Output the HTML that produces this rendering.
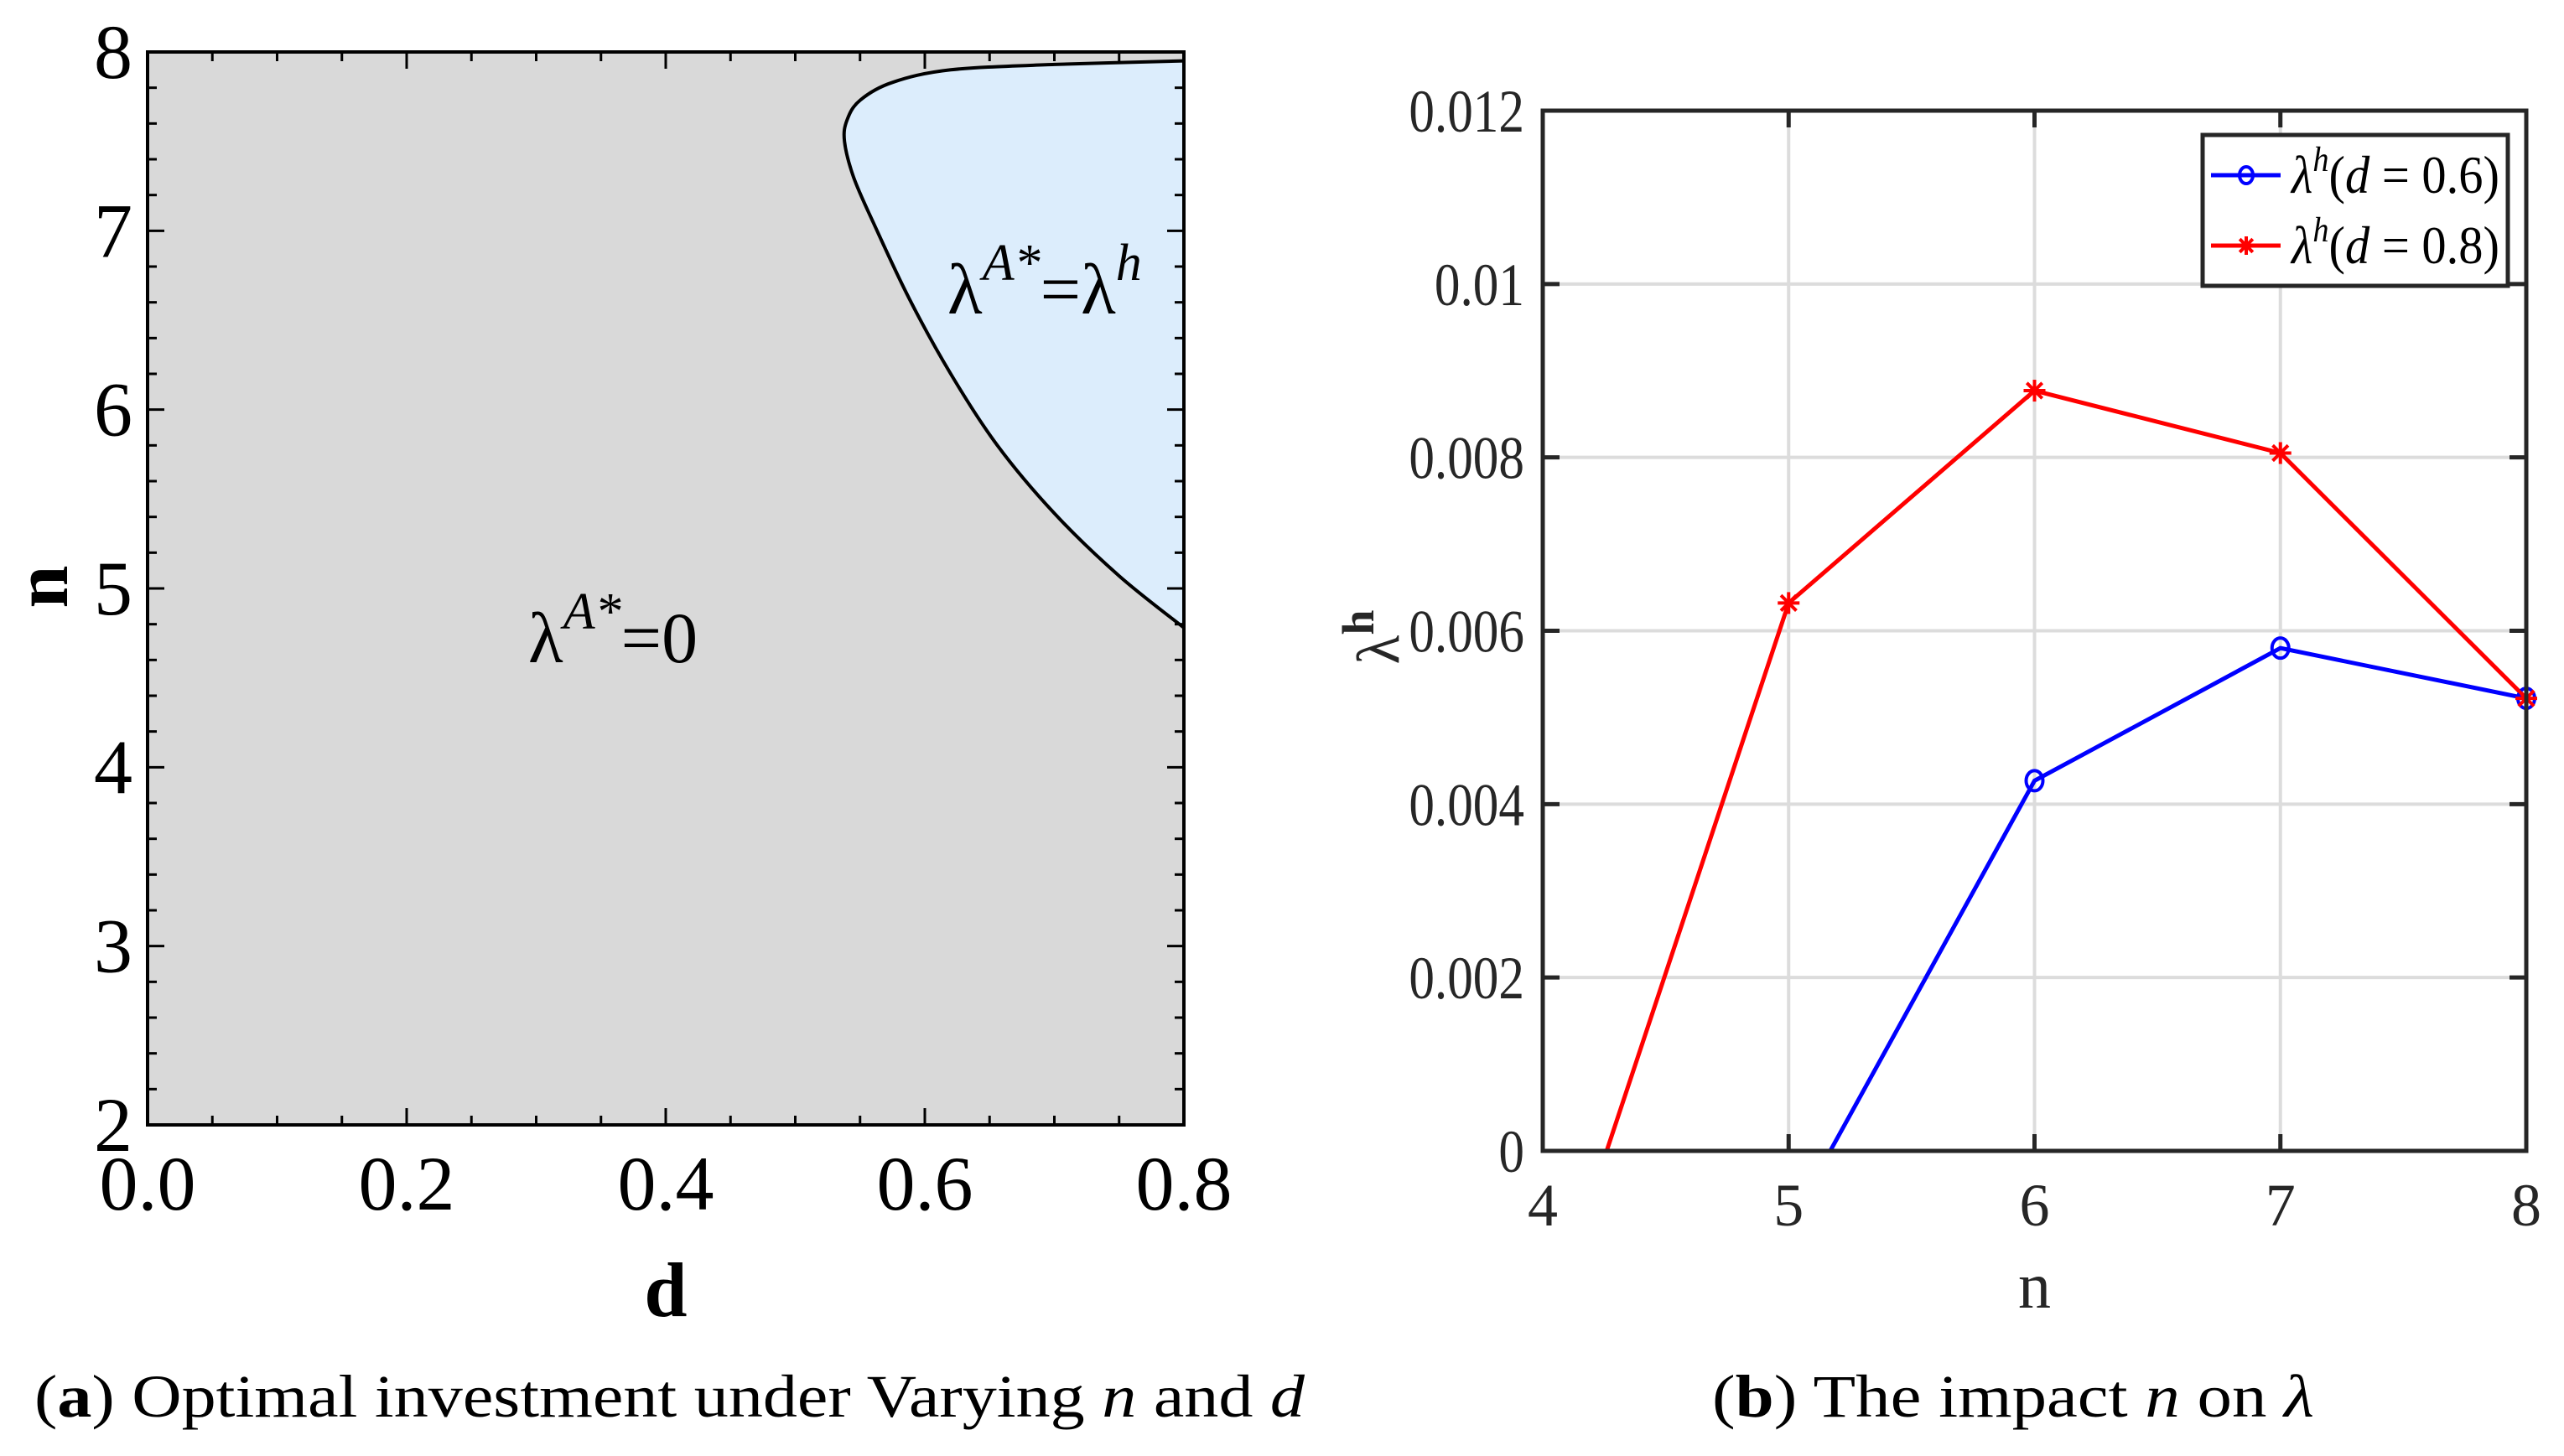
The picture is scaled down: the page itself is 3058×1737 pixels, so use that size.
<!DOCTYPE html>
<html><head><meta charset="utf-8"><style>
html,body{margin:0;padding:0;background:#fff;}
svg{display:block;}
text{font-family:"Liberation Serif",serif;}
</style></head><body>
<svg id="fig" width="3058" height="1737" viewBox="0 0 3058 1737" xmlns="http://www.w3.org/2000/svg">
<g id="left"></g>
<g id="right"></g>
<text x="41" y="1690" font-size="72" textLength="1515" lengthAdjust="spacingAndGlyphs">(<tspan font-weight="bold">a</tspan>) Optimal investment under Varying <tspan font-style="italic">n</tspan> and <tspan font-style="italic">d</tspan></text>
<text x="2042" y="1690" font-size="72" textLength="718" lengthAdjust="spacingAndGlyphs">(<tspan font-weight="bold">b</tspan>) The impact <tspan font-style="italic">n</tspan> on <tspan font-style="italic">λ</tspan></text>
</svg>
<script>
// ---- Left plot data ----
const dTicks = [0.0, 0.2, 0.4, 0.6, 0.8];
const dTickLabels = ["0.0", "0.2", "0.4", "0.6", "0.8"];
const nTicksLeft = [2, 3, 4, 5, 6, 7, 8];
const boundaryD = [0.8, 0.7, 0.62, 0.575, 0.55, 0.54, 0.538, 0.545, 0.56, 0.588, 0.62, 0.656, 0.7, 0.75, 0.8];
const boundaryN = [7.95, 7.93, 7.9, 7.83, 7.73, 7.62, 7.5, 7.3, 7.05, 6.62, 6.2, 5.8, 5.42, 5.07, 4.78];

// ---- Right plot data ----
const nCats = [4, 5, 6, 7, 8];
const lamTicks = [0, 0.002, 0.004, 0.006, 0.008, 0.01, 0.012];
const lamTickLabels = ["0", "0.002", "0.004", "0.006", "0.008", "0.01", "0.012"];
const blueN = [5, 6, 7, 8];
const blueVals = [-0.00087, 0.00427, 0.0058, 0.00522];
const redN = [4, 5, 6, 7, 8];
const redVals = [-0.00222, 0.00632, 0.00877, 0.00805, 0.00522];

const NS = "http://www.w3.org/2000/svg";
function mk(parent, tag, attrs, txt) {
  const e = document.createElementNS(NS, tag);
  for (const k in attrs) e.setAttribute(k, attrs[k]);
  if (txt !== undefined) e.textContent = txt;
  parent.appendChild(e);
  return e;
}
function smoothPath(P) {
  let d = 'M' + P[0][0] + ',' + P[0][1];
  for (let i = 0; i < P.length - 1; i++) {
    const p0 = P[Math.max(0, i - 1)], p1 = P[i], p2 = P[i + 1], p3 = P[Math.min(P.length - 1, i + 2)];
    const c1x = p1[0] + (p2[0] - p0[0]) / 6, c1y = p1[1] + (p2[1] - p0[1]) / 6;
    const c2x = p2[0] - (p3[0] - p1[0]) / 6, c2y = p2[1] - (p3[1] - p1[1]) / 6;
    d += ' C' + c1x.toFixed(1) + ',' + c1y.toFixed(1) + ' ' + c2x.toFixed(1) + ',' + c2y.toFixed(1) + ' ' + p2[0].toFixed(1) + ',' + p2[1].toFixed(1);
  }
  return d;
}

// ===== Left =====
(function(){
  const g = document.getElementById('left');
  const L = 176, R = 1412, T = 62, B = 1342;
  const xs = d => L + (d - 0) / 0.8 * (R - L);
  const ys = n => B - (n - 2) / 6 * (B - T);
  const bg = mk(g, 'rect', {x: L, y: T, width: R - L, height: B - T, fill: '#d9d9d9'});
  
  
  const P = boundaryD.map((d, i) => [xs(d), ys(boundaryN[i])]);
  const pd = smoothPath(P);
  const reg = mk(g, 'path', {d: pd + ' Z', fill: '#dcedfc', stroke: 'none'});
  
  
  const bl = mk(g, 'path', {d: pd, fill: 'none', stroke: '#000', 'stroke-width': 4, 'stroke-linejoin': 'round'});
  
  
  for (let d = 0; d <= 0.8001; d += 0.05) {
    const major = Math.abs(d / 0.2 - Math.round(d / 0.2)) < 1e-6;
    const len = major ? 20 : 11;
    mk(g, 'line', {x1: xs(d), x2: xs(d), y1: B, y2: B - len, stroke: '#000', 'stroke-width': 3});
    mk(g, 'line', {x1: xs(d), x2: xs(d), y1: T, y2: T + len, stroke: '#000', 'stroke-width': 3});
  }
  for (let n = 2; n <= 8.001; n += 0.2) {
    const major = Math.abs(n - Math.round(n)) < 1e-6;
    const len = major ? 20 : 11;
    mk(g, 'line', {x1: L, x2: L + len, y1: ys(n), y2: ys(n), stroke: '#000', 'stroke-width': 3});
    mk(g, 'line', {x1: R, x2: R - len, y1: ys(n), y2: ys(n), stroke: '#000', 'stroke-width': 3});
  }
  const fr = mk(g, 'rect', {x: L, y: T, width: R - L, height: B - T, fill: 'none', stroke: '#000', 'stroke-width': 4});
  
  
  dTicks.forEach((d, i) => {
    const t = mk(g, 'text', {x: xs(d), y: 1443, 'font-size': 92, 'text-anchor': 'middle'}, dTickLabels[i]);
    
    
  });
  nTicksLeft.forEach(n => {
    const t = mk(g, 'text', {x: 158, y: ys(n) + 31, 'font-size': 92, 'text-anchor': 'end'}, String(n));
    
    
  });
  const xl = mk(g, 'text', {x: 794, y: 1570, 'font-size': 92, 'font-weight': 'bold', 'text-anchor': 'middle'}, 'd');
  
  
  const yl = mk(g, 'text', {x: 0, y: 0, 'font-size': 92, 'font-weight': 'bold', 'text-anchor': 'middle', transform: 'translate(80,700) rotate(-90)'}, 'n');
  
  
  const a1 = mk(g, 'text', {x: 630, y: 790, 'font-size': 86}, '');
  a1.innerHTML = 'λ<tspan dy="-40" font-size="62" font-style="italic">A*</tspan><tspan dy="40">=0</tspan>';
  
  
  const a2 = mk(g, 'text', {x: 1130, y: 374, 'font-size': 86}, '');
  a2.innerHTML = 'λ<tspan dy="-40" font-size="62" font-style="italic">A*</tspan><tspan dy="40">=λ</tspan><tspan dy="-40" font-size="62" font-style="italic">h</tspan>';
  
  
})();

// ===== Right =====
(function(){
  const g = document.getElementById('right');
  const L = 1840, R = 3013, T = 132, B = 1373;
  const xs = n => L + (n - 4) / 4 * (R - L);
  const ys = v => B - v / 0.012 * (B - T);
  mk(g, 'defs', {}).innerHTML = '<clipPath id="clipR"><rect x="' + L + '" y="' + T + '" width="' + (R - L) + '" height="' + (B - T) + '"/></clipPath>';
  nCats.forEach(n => {
    mk(g, 'line', {x1: xs(n), x2: xs(n), y1: T, y2: B, stroke: '#dcdcdc', 'stroke-width': 4});
  });
  lamTicks.forEach(v => {
    mk(g, 'line', {x1: L, x2: R, y1: ys(v), y2: ys(v), stroke: '#dcdcdc', 'stroke-width': 4});
  });
  nCats.forEach(n => {
    mk(g, 'line', {x1: xs(n), x2: xs(n), y1: B, y2: B - 20, stroke: '#262626', 'stroke-width': 5});
    mk(g, 'line', {x1: xs(n), x2: xs(n), y1: T, y2: T + 20, stroke: '#262626', 'stroke-width': 5});
  });
  lamTicks.forEach(v => {
    mk(g, 'line', {x1: L, x2: L + 20, y1: ys(v), y2: ys(v), stroke: '#262626', 'stroke-width': 5});
    mk(g, 'line', {x1: R, x2: R - 20, y1: ys(v), y2: ys(v), stroke: '#262626', 'stroke-width': 5});
  });
  const cg = mk(g, 'g', {'clip-path': 'url(#clipR)'});
  const bp = mk(cg, 'polyline', {points: blueN.map((n, i) => xs(n) + ',' + ys(blueVals[i])).join(' '), fill: 'none', stroke: '#0000ff', 'stroke-width': 5});
  
  
  const rp = mk(cg, 'polyline', {points: redN.map((n, i) => xs(n) + ',' + ys(redVals[i])).join(' '), fill: 'none', stroke: '#ff0000', 'stroke-width': 5});
  
  
  blueN.forEach((n, i) => {
    if (blueVals[i] < 0) return;
    const c = mk(g, 'ellipse', {cx: xs(n), cy: ys(blueVals[i]), rx: 10, ry: 12, fill: 'none', stroke: '#0000ff', 'stroke-width': 4});
    
    
  });
  function star(parent, x, y, r, col) {
    const s = mk(parent, 'g', {stroke: col, 'stroke-width': 4});
    for (let k = 0; k < 4; k++) {
      const a = k * Math.PI / 4;
      mk(s, 'line', {x1: x - r * Math.cos(a), y1: y - r * Math.sin(a), x2: x + r * Math.cos(a), y2: y + r * Math.sin(a)});
    }
    return s;
  }
  redN.forEach((n, i) => {
    if (redVals[i] < 0) return;
    const s = star(g, xs(n), ys(redVals[i]), 13, '#ff0000');
    
    
  });
  const fr = mk(g, 'rect', {x: L, y: T, width: R - L, height: B - T, fill: 'none', stroke: '#262626', 'stroke-width': 5});
  
  
  nCats.forEach(n => {
    const t = mk(g, 'text', {x: xs(n), y: 1462, 'font-size': 72, 'text-anchor': 'middle', fill: '#262626'}, String(n));
    
    
  });
  lamTicks.forEach((v, i) => {
    const t = mk(g, 'text', {x: 1818, y: ys(v) + 25, 'font-size': 72, 'text-anchor': 'end', fill: '#262626', transform: 'translate(1818,0) scale(0.85,1) translate(-1818,0)'}, lamTickLabels[i]);
    
    
  });
  const xl = mk(g, 'text', {x: xs(6), y: 1560, 'font-size': 78, 'text-anchor': 'middle', fill: '#262626'}, 'n');
  
  
  const yl = mk(g, 'text', {x: 0, y: 0, 'font-size': 72, 'text-anchor': 'middle', fill: '#262626', transform: 'translate(1668,760) rotate(-90)'}, '');
  yl.innerHTML = 'λ<tspan dy="-30" font-size="54" font-weight="bold">h</tspan>';
  
  
  const lg = mk(g, 'g', {});
  
  
  mk(lg, 'rect', {x: 2627, y: 161, width: 364, height: 180, fill: '#fff', stroke: '#262626', 'stroke-width': 5});
  const e1 = mk(lg, 'g', {});
  
  
  mk(e1, 'line', {x1: 2637, x2: 2720, y1: 209, y2: 209, stroke: '#0000ff', 'stroke-width': 5});
  mk(e1, 'ellipse', {cx: 2679, cy: 209, rx: 8, ry: 10, fill: 'none', stroke: '#0000ff', 'stroke-width': 4});
  const t1 = mk(e1, 'text', {x: 2733, y: 230, 'font-size': 64, fill: '#000', textLength: 248, lengthAdjust: 'spacingAndGlyphs'}, '');
  t1.innerHTML = '<tspan font-style="italic">λ</tspan><tspan dy="-26" font-size="42" font-style="italic">h</tspan><tspan dy="26">(</tspan><tspan font-style="italic">d</tspan> = 0.6)';
  const e2 = mk(lg, 'g', {});
  
  
  mk(e2, 'line', {x1: 2637, x2: 2720, y1: 293, y2: 293, stroke: '#ff0000', 'stroke-width': 5});
  star(e2, 2679, 293, 11, '#ff0000');
  const t2 = mk(e2, 'text', {x: 2733, y: 314, 'font-size': 64, fill: '#000', textLength: 248, lengthAdjust: 'spacingAndGlyphs'}, '');
  t2.innerHTML = '<tspan font-style="italic">λ</tspan><tspan dy="-26" font-size="42" font-style="italic">h</tspan><tspan dy="26">(</tspan><tspan font-style="italic">d</tspan> = 0.8)';
})();
</script>
</body></html>
